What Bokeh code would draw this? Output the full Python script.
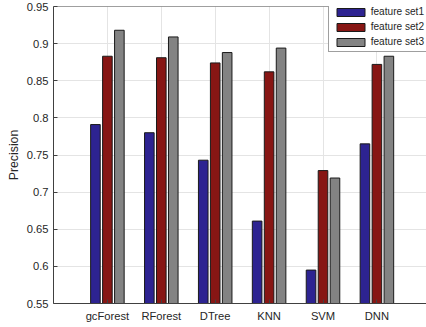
from bokeh.plotting import figure
from bokeh.models import (FixedTicker, CustomJSTickFormatter, Legend, Span,
                          LegendItem, ColumnDataSource, Range1d)
from bokeh.embed import file_html
from bokeh.resources import INLINE

# Precision of each classifier for three feature sets
classifiers = ["gcForest", "RForest", "DTree", "KNN", "SVM", "DNN"]
series_names = ["feature set1", "feature set2", "feature set3"]
set1 = [0.791, 0.780, 0.743, 0.661, 0.595, 0.765]
set2 = [0.883, 0.881, 0.874, 0.862, 0.729, 0.872]
set3 = [0.918, 0.909, 0.888, 0.894, 0.719, 0.883]
y_ticks = [0.55, 0.6, 0.65, 0.7, 0.75, 0.8, 0.85, 0.9, 0.95]

colors = ["#2d2391", "#871614", "#838383"]
offsets = [-0.222, 0.0, 0.222]
bar_width = 0.178

FONT = "Liberation Sans"
AX = "#404040"
TXT = "#262626"

p = figure(width=426, height=327, output_backend="svg", toolbar_location=None,
           x_range=Range1d(0, 6.92), y_range=Range1d(0.55, 0.95),
           min_border_left=53, min_border_right=0, min_border_top=6,
           min_border_bottom=24, outline_line_color=None,
           background_fill_color="white", border_fill_color="white")

positions = list(range(1, len(classifiers) + 1))
items = []
for vals, name, col, off in zip([set1, set2, set3], series_names, colors, offsets):
    src = ColumnDataSource(dict(x=[i + off for i in positions], top=vals))
    r = p.vbar(x="x", top="top", bottom=0.55, width=bar_width, source=src,
               fill_color=col, line_color="#1a1a1a", line_width=1)
    items.append(LegendItem(label=name, renderers=[r]))

# x axis: classifier names at the group centres
xa = p.xaxis[0]
xa.ticker = FixedTicker(ticks=positions)
xa.major_label_overrides = {i: c for i, c in zip(positions, classifiers)}
ya = p.yaxis[0]
ya.ticker = FixedTicker(ticks=y_ticks)
ya.formatter = CustomJSTickFormatter(code="return String(Math.round(tick*100)/100)")
ya.axis_label = "Precision"

for ax in (xa, ya):
    ax.axis_line_color = AX
    ax.major_tick_line_color = AX
    ax.major_tick_out = 0
    ax.major_tick_in = 4
    ax.minor_tick_line_color = None
    ax.major_label_text_font = FONT
    ax.major_label_text_font_size = "11.2px"
    ax.major_label_text_color = TXT
    ax.axis_label_text_font = FONT
    ax.axis_label_text_font_size = "12.3px"
    ax.axis_label_text_font_style = "normal"
    ax.axis_label_text_color = TXT
xa.major_label_standoff = 6
ya.major_label_standoff = 5
ya.axis_label_standoff = 3

# top edge of the axes box
p.add_layout(Span(location=0.95, dimension="width", line_color=AX, line_width=1))

p.xgrid.ticker = FixedTicker(ticks=positions)
p.grid.grid_line_color = "#e4e4e4"
p.grid.grid_line_width = 1

legend = Legend(items=items, location=(274.7, 250.7), orientation="vertical",
                glyph_width=35, glyph_height=10, label_height=10, label_standoff=3,
                spacing=4, padding=4, margin=0,
                label_text_font=FONT, label_text_font_size="10.1px",
                label_text_color=TXT,
                border_line_color="#404040", border_line_width=1,
                background_fill_color="white", background_fill_alpha=1.0)
p.add_layout(legend)

open("out.html", "w").write(file_html(p, INLINE))
